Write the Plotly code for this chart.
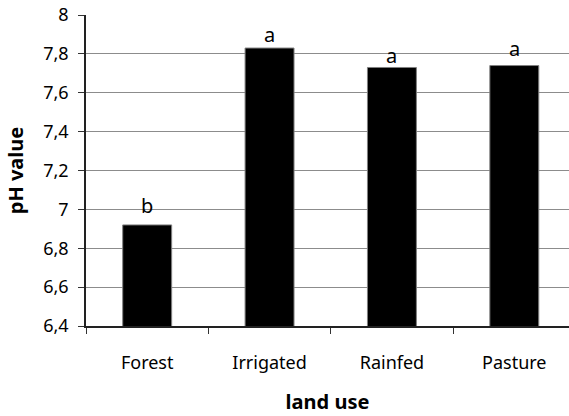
import plotly.graph_objects as go

categories = ["Forest", "Irrigated", "Rainfed", "Pasture"]
ph_values = [6.92, 7.83, 7.73, 7.74]
letters = ["b", "a", "a", "a"]
y_ticks = [6.4, 6.6, 6.8, 7.0, 7.2, 7.4, 7.6, 7.8, 8.0]

# pixel gaps between bar tops and letters (style)
letter_gaps = [9, 3, 1, 7]

FONT = "Noto Sans"

fig = go.Figure()
fig.add_trace(go.Bar(
    x=categories, y=ph_values,
    marker=dict(color="black", line=dict(color="#808080", width=1)),
    width=0.4,
))

for cat, val, lab, gap in zip(categories, ph_values, letters, letter_gaps):
    fig.add_annotation(
        x=cat, y=val, text=lab, showarrow=False,
        yanchor="bottom", yshift=gap - 5,
        font=dict(family=FONT, size=20, color="black"),
    )

fig.update_layout(
    width=569, height=416,
    margin=dict(l=86, r=0, t=15, b=90),
    paper_bgcolor="white", plot_bgcolor="white",
    separators=",.",
    showlegend=False,
    font=dict(family=FONT, color="black"),
    xaxis=dict(
        type="category",
        range=[-0.5, 3.447],
        automargin=False,
        tickson="boundaries",
        ticks="outside", ticklen=6, tickcolor="#333", tickwidth=1,
        showline=True, linecolor="#222", linewidth=1.5,
        showgrid=False,
        tickfont=dict(size=18, family=FONT, color="black"),
        ticklabelstandoff=20,
        title=dict(text="<b>land use</b>", font=dict(size=20, family=FONT), standoff=22),
    ),
    yaxis=dict(
        range=[6.4, 8.0],
        tickvals=y_ticks,
        tickformat="~r",
        automargin=False,
        ticks="outside", ticklen=6, tickcolor="#333", tickwidth=1,
        showline=True, linecolor="#222", linewidth=1.5,
        showgrid=True, gridcolor="#8c8c8c", gridwidth=1,
        zeroline=False,
        tickfont=dict(size=18, family=FONT, color="black"),
        ticklabelstandoff=6,
        title=dict(text="<b>pH value</b>", font=dict(size=20, family=FONT), standoff=14),
    ),
)

fig.write_html(
    "out.html",
    config={"displayModeBar": False},
    post_script="document.body.style.margin='0';document.body.style.overflow='hidden';",
)
